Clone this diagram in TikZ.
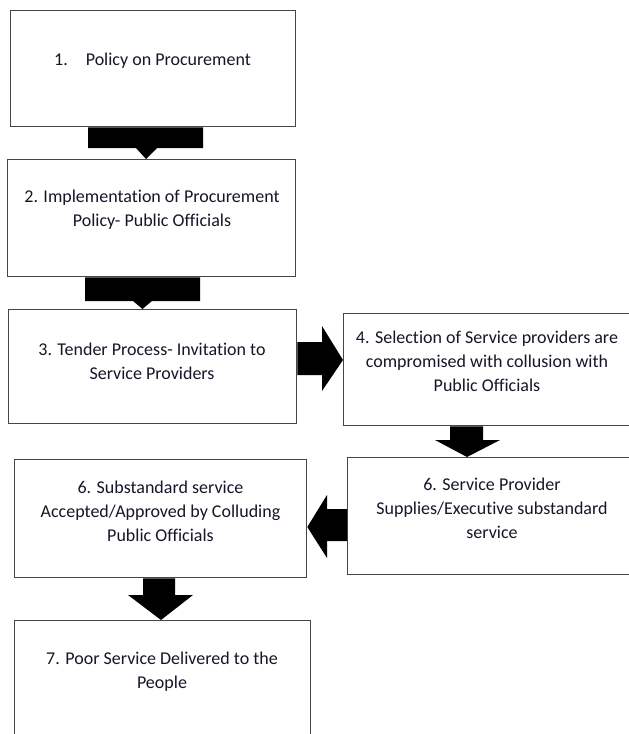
\documentclass[tikz,border=0pt]{standalone}
\usepackage{fontspec}
\setmainfont[Ligatures=NoCommon]{Carlito}
\usetikzlibrary{calc}
\definecolor{txt}{RGB}{22,22,40}
\definecolor{edge}{RGB}{70,70,70}
\tikzset{
  box/.style={draw=edge, line width=1.3pt, fill=white, rectangle, anchor=north west, inner sep=0pt},
  lbl/.style={align=center, text=txt, font=\fontsize{18}{24}\selectfont, inner sep=0pt},
  blk/.style={fill=black, draw=none}
}
\begin{document}
\begin{tikzpicture}[x=1pt,y=-1pt]
\useasboundingbox (0,0) rectangle (629,734);
\clip (0,0) rectangle (629,734);
\fill[white] (0,0) rectangle (629,734);
% boxes
\node[box, minimum width=285pt, minimum height=116pt] (b1) at (10,10) {};
\node[box, minimum width=288pt, minimum height=117pt] (b2) at (7,159) {};
\node[box, minimum width=288pt, minimum height=114pt] (b3) at (8,309) {};
\node[box, minimum width=300pt, minimum height=112pt] (b4) at (343,313) {};
\node[box, minimum width=300pt, minimum height=117pt] (b6r) at (347,457) {};
\node[box, minimum width=292pt, minimum height=118pt] (b6l) at (14,459) {};
\node[box, minimum width=296pt, minimum height=130pt] (b7) at (14,620) {};
% texts
\node[lbl] (t1) at (152.5,61) {1.\hspace{1em}Policy on Procurement};
\node[lbl] (t2) at (152,210) {2. Implementation of Procurement\\Policy- Public Officials};
\node[lbl] (t3) at (152,361) {3. Tender Process- Invitation to\\Service Providers};
\node[lbl] (t4) at (487,361) {4. Selection of Service providers are\\compromised with collusion with\\Public Officials};
\node[lbl] (t6r) at (492,508) {6. Service Provider\\Supplies/Executive substandard\\service};
\node[lbl] (t6l) at (160.5,511) {6. Substandard service\\Accepted/Approved by Colluding\\Public Officials};
\node[lbl] (t7) at (162,672) {7. Poor Service Delivered to the\\People};
% block arrows
\fill[blk] (88,0 |- b1.south) -- (203,0 |- b1.south) -- (203,148) -- (157,148)
  -- (146,0 |- b2.north) -- (136,148) -- (88,148) -- cycle;
\fill[blk] (85,0 |- b2.south) -- (200,0 |- b2.south) -- (200,301) -- (152,301)
  -- (142.5,0 |- b3.north) -- (133,301) -- (85,301) -- cycle;
\fill[blk] (b3.east |- 0,342) -- (322,342) -- (322,326) -- (b4.west |- 0,360)
  -- (322,391) -- (322,375) -- (b3.east |- 0,375) -- cycle;
\fill[blk] (450,0 |- b4.south) -- (483,0 |- b4.south) -- (483,440) -- (500,440)
  -- (467,0 |- b6r.north) -- (435,440) -- (450,440) -- cycle;
\fill[blk] (b6r.west |- 0,509) -- (327,509) -- (327,495) -- (b6l.east |- 0,527)
  -- (327,558) -- (327,541) -- (b6r.west |- 0,541) -- cycle;
\fill[blk] (143,0 |- b6l.south) -- (175,0 |- b6l.south) -- (175,595) -- (193,595)
  -- (161,0 |- b7.north) -- (128,595) -- (143,595) -- cycle;
\end{tikzpicture}
\end{document}
